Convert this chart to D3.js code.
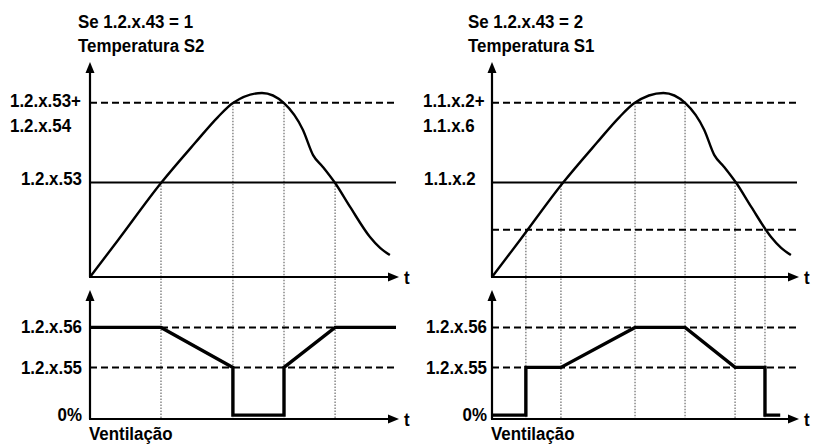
<!DOCTYPE html>
<html>
<head>
<meta charset="utf-8">
<script src="https://cdn.jsdelivr.net/npm/d3@7"></script>
<style>
  body { margin: 0; background: #fff; }
  svg text { font-family: "Liberation Sans", Arial, sans-serif; font-weight: bold; font-size: 19px; fill: #000; }
</style>
</head>
<body>
<div id="chart"></div>
<script>
// temperature curve (same shape in both panels), t and value in 0..100 units
const curveT    = [0, 9.2, 23.2, 34.3, 41.8, 46.7, 56.2, 63.4, 69.6, 72.9, 76.1, 80.1, 85, 91.5, 94.8, 98];
const curveTemp = [0, 17.2, 43.7, 62.3, 74.4, 80.9, 85.6, 80.9, 68.4, 56.7, 51.2, 43.7, 32.6, 18.6, 13.5, 10.2];

// threshold levels of the temperature panel
const levelHigh = 81;   // setpoint + differential
const levelMid = 44;    // setpoint
const levelLow = 22;    // lower threshold (right panel only)

// fan output levels
const fanMax = 71;      // 1.2.x.56
const fanMin = 40;      // 1.2.x.55
const fanOff = 3;       // 0%

// left panel: 1.2.x.43 = 1
const leftTitle = ["Se 1.2.x.43 = 1", "Temperatura S2"];
const leftMarkT = [23.2, 46.7, 63.4, 80.1];
const leftMarkLevel = [levelMid, levelHigh, levelHigh, levelMid];
const leftFanT = [0, 23.2, 46.7, 46.7, 63.4, 63.4, 80.1, 100];
const leftFanV = [fanMax, fanMax, fanMin, fanOff, fanOff, fanMin, fanMax, fanMax];

// right panel: 1.2.x.43 = 2
const rightTitle = ["Se 1.2.x.43 = 2", "Temperatura S1"];
const rightMarkT = [11.1, 22.6, 46.9, 63.3, 79.7, 89.5];
const rightMarkLevel = [levelLow, levelMid, levelHigh, levelHigh, levelMid, levelLow];
const rightFanT = [0, 11.1, 11.1, 22.6, 46.9, 63.3, 79.7, 89.5, 89.5, 94.5];
const rightFanV = [fanOff, fanOff, fanMin, fanMin, fanMax, fanMax, fanMin, fanMin, fanOff, fanOff];

const width = 814, height = 445;
const svg = d3.select('#chart').append('svg')
  .attr('width', width)
  .attr('height', height);

const yTop = d3.scaleLinear().domain([0, 100]).range([277, 62]);
const yBot = d3.scaleLinear().domain([0, 100]).range([419, 290]);

// the source font is a condensed bold, so squeeze it a bit
function label(g, s, x, y, anchor) {
  g.append('text')
    .attr('transform', `translate(${x},${y}) scale(0.89,1)`)
    .attr('text-anchor', anchor || 'start')
    .text(s);
}

function arrow(g, x, y, dir) {
  // filled triangle, tip at (x,y)
  const pts = dir === 'up'
    ? [[x, y], [x - 4.5, y + 11], [x + 4.5, y + 11]]
    : [[x, y], [x - 11, y - 4.5], [x - 11, y + 4.5]];
  g.append('path').attr('d', 'M' + pts.join('L') + 'Z').attr('fill', '#000');
}

function hline(g, x, y, x1, x2, v, dashed) {
  g.append('line')
    .attr('x1', x(x1)).attr('x2', x(x2))
    .attr('y1', y(v)).attr('y2', y(v))
    .attr('stroke', '#000')
    .attr('stroke-width', 2)
    .attr('stroke-dasharray', dashed ? '7,4' : null);
}

function drawPanel(cfg) {
  const g = svg.append('g');
  const x = d3.scaleLinear().domain([0, 100]).range([cfg.x0, cfg.x1]);

  // vertical dotted guides
  cfg.markT.forEach((t, i) => {
    g.append('line')
      .attr('x1', x(t)).attr('x2', x(t))
      .attr('y1', yTop(cfg.markLevel[i])).attr('y2', yBot(0))
      .attr('stroke', '#888')
      .attr('stroke-width', 1.5)
      .attr('stroke-dasharray', '1.5,1.5');
  });

  // threshold lines
  hline(g, x, yTop, 0, 100, levelHigh, true);
  hline(g, x, yTop, 0, 100, levelMid, false);
  if (cfg.lowLine) hline(g, x, yTop, 0, 100, levelLow, true);
  hline(g, x, yBot, cfg.maxDashFrom, 100, fanMax, true);
  hline(g, x, yBot, 0, 100, fanMin, true);

  // axes
  [[yTop, 62], [yBot, 290]].forEach(([y, top]) => {
    g.append('line').attr('x1', x(0)).attr('x2', x(0))
      .attr('y1', y(0)).attr('y2', top + 8)
      .attr('stroke', '#000').attr('stroke-width', 2.2);
    arrow(g, x(0), top, 'up');
    g.append('line').attr('x1', x(0) - 1).attr('x2', cfg.tip - 8)
      .attr('y1', y(0)).attr('y2', y(0))
      .attr('stroke', '#000').attr('stroke-width', 2.2);
    arrow(g, cfg.tip, y(0), 'right');
    label(g, 't', cfg.tip + 5, y(0) + 7);
  });

  // temperature curve
  const line = d3.line()
    .x((d, i) => x(curveT[i]))
    .y(d => yTop(d))
    .curve(d3.curveMonotoneX);
  g.append('path')
    .attr('d', line(curveTemp))
    .attr('fill', 'none')
    .attr('stroke', '#000')
    .attr('stroke-width', 2.4);

  // fan output
  const fan = d3.line()
    .x((d, i) => x(cfg.fanT[i]))
    .y(d => yBot(d));
  g.append('path')
    .attr('d', fan(cfg.fanV))
    .attr('fill', 'none')
    .attr('stroke', '#000')
    .attr('stroke-width', 3.4)
    .attr('stroke-linejoin', 'miter');

  // titles
  cfg.title.forEach((s, i) => label(g, s, cfg.titleX, 28 + i * 24));

  // labels
  cfg.labels.forEach(l => label(g, l.text, l.x, l.y, l.anchor));

  label(g, 'Ventilação', x(0) - 1, 440);
}

drawPanel({
  x0: 90, x1: 396, tip: 399, titleX: 78,
  title: leftTitle,
  markT: leftMarkT, markLevel: leftMarkLevel,
  fanT: leftFanT, fanV: leftFanV,
  lowLine: false, maxDashFrom: 23.2,
  labels: [
    { text: '1.2.x.53+', x: 10, y: yTop(levelHigh) + 4 },
    { text: '1.2.x.54', x: 10, y: yTop(levelHigh) + 29 },
    { text: '1.2.x.53', x: 82, y: yTop(levelMid) + 3, anchor: 'end' },
    { text: '1.2.x.56', x: 82, y: yBot(fanMax) + 6, anchor: 'end' },
    { text: '1.2.x.55', x: 82, y: yBot(fanMin) + 7, anchor: 'end' },
    { text: '0%', x: 82, y: yBot(0) + 2, anchor: 'end' }
  ]
});

drawPanel({
  x0: 492, x1: 797, tip: 799, titleX: 468,
  title: rightTitle,
  markT: rightMarkT, markLevel: rightMarkLevel,
  fanT: rightFanT, fanV: rightFanV,
  lowLine: true, maxDashFrom: 0,
  labels: [
    { text: '1.1.x.2+', x: 423, y: yTop(levelHigh) + 4 },
    { text: '1.1.x.6', x: 423, y: yTop(levelHigh) + 29 },
    { text: '1.1.x.2', x: 424, y: yTop(levelMid) + 3 },
    { text: '1.2.x.56', x: 487, y: yBot(fanMax) + 6, anchor: 'end' },
    { text: '1.2.x.55', x: 487, y: yBot(fanMin) + 7, anchor: 'end' },
    { text: '0%', x: 487, y: yBot(0) + 2, anchor: 'end' }
  ]
});
</script>
</body>
</html>
